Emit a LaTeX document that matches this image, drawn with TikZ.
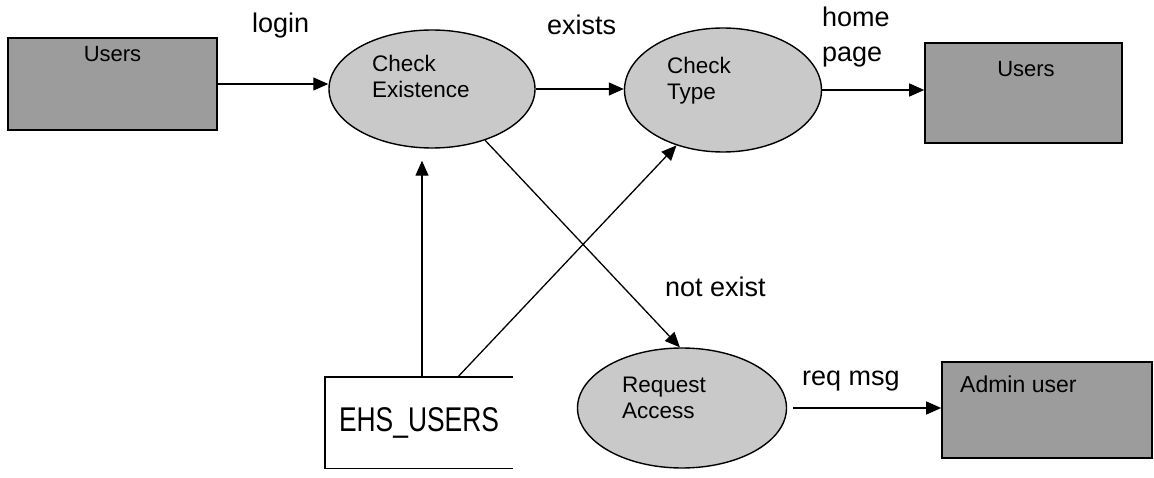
\documentclass[tikz,border=0pt]{standalone}
\usepackage{fontspec}
\setmainfont{Liberation Sans}
\usetikzlibrary{arrows.meta,shapes.geometric,calc}

\tikzset{
  proc/.style={ellipse, draw=black, line width=1.4pt, fill=gray!42, inner sep=0pt},
  entity/.style={rectangle, draw=black, line width=1.6pt, fill=gray!78, inner sep=0pt},
  % multi-line texts: the base anchor sits on the last line
  proctext/.style={inner sep=0pt, align=left, anchor=base west, font=\fontsize{22.5}{26}\selectfont},
  boxtext/.style={inner sep=0pt, anchor=base, font=\fontsize{22}{26}\selectfont},
  flowlabel/.style={inner sep=0pt, align=left, anchor=base west, font=\fontsize{27}{35}\selectfont},
  flow/.style={line width=1.3pt, -{Triangle[length=15pt,width=13pt]}}
}

\begin{document}
\begin{tikzpicture}[x=1pt, y=-1pt]
\useasboundingbox (0,0) rectangle (1154,478);

% external entities
\node[entity, minimum width=209pt, minimum height=92pt] (usersIn) at (112.5,84) {};
\node[boxtext] (usersInText) at (112.5,62) {Users};
\node[entity, minimum width=197pt, minimum height=100pt] (usersOut) at (1023.5,93) {};
\node[boxtext] (usersOutText) at (1026,77) {Users};
\node[entity, minimum width=210pt, minimum height=96pt] (admin) at (1047,410) {};
\node[boxtext, anchor=base west, font=\fontsize{23}{26}\selectfont] (adminText) at (960,392) {Admin user};

% processes
\node[proc, minimum width=206pt, minimum height=118pt] (exist) at (432,89) {};
\node[proctext] (existText) at (372,98) {Check\\Existence};
\node[proc, minimum width=197pt, minimum height=124pt] (type) at (723,90) {};
\node[proctext] (typeText) at (667,100) {Check\\Type};
\node[proc, minimum width=209pt, minimum height=120pt] (request) at (682,408) {};
\node[proctext] (requestText) at (622,418) {Request\\Access};

% data store (open on the right)
\node[inner sep=0pt, minimum width=188pt, minimum height=91pt,
      font=\fontsize{26.4}{30}\selectfont] (store) at (419,422.5)
      {\scalebox{1}[1.3]{EHS\_USERS}};
\draw[line width=1.4pt] (store.north east) -- (store.north west)
  -- (store.south west) -- (store.south east);

% data flows
\draw[flow] (usersIn.east) -- (usersIn.east -| exist.west);
\draw[flow] (exist.east) -- (exist.east -| type.west);
\draw[flow] (type.east) -- (type.east -| usersOut.west);
\draw[flow, shorten <=6pt] (request.east) -- (request.east -| admin.west);
\draw[flow, shorten >=12pt] ([xshift=3pt]store.north) -- ([xshift=3pt]store.north |- exist.south);
\draw[flow] ([xshift=39pt]store.north) -- (type.230);
\draw[flow] (exist.-44) -- (request.92);

% flow labels
\node[flowlabel] (lblLogin) at (252,33) {login};
\node[flowlabel] (lblExists) at (547,35) {exists};
\node[flowlabel] (lblHome) at (822,62) {home\\page};
\node[flowlabel] (lblNotExist) at (665,297) {not exist};
\node[flowlabel] (lblReq) at (802,385) {req msg};
\end{tikzpicture}
\end{document}
